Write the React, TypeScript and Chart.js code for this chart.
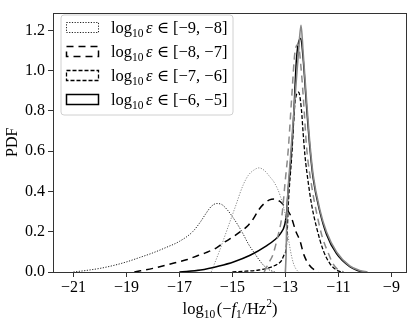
import React, { useEffect, useRef } from "react";
import { Chart, registerables } from "chart.js";

Chart.register(...registerables);

// ---- data ----
const xTicks = [-21, -19, -17, -15, -13, -11, -9];
const yTicks = [0, 0.2, 0.4, 0.6, 0.8, 1.0, 1.2];
const legendRanges = [[-9, -8], [-8, -7], [-7, -6], [-6, -5]];

// black dotted: log10 eps in [-9,-8]
const dotBlackX = [-21.0, -20.5, -20.0, -19.5, -19.0, -18.5, -18.0, -17.5, -17.0, -16.5, -16.2, -16.0, -15.8, -15.6, -15.4, -15.2, -15.0, -14.8, -14.6, -14.4, -14.2, -14.0, -13.8, -13.6, -13.4];
const dotBlackY = [0.0, 0.008, 0.018, 0.032, 0.05, 0.072, 0.095, 0.122, 0.152, 0.2, 0.25, 0.29, 0.325, 0.34, 0.335, 0.31, 0.275, 0.235, 0.19, 0.14, 0.1, 0.062, 0.03, 0.01, 0.0];

// black long dashed: [-8,-7]
const longBlackX = [-18.7, -18.0, -17.2, -16.7, -16.3, -16.0, -15.6, -15.3, -15.0, -14.7, -14.4, -14.2, -14.0, -13.8, -13.6, -13.4, -13.2, -13.0, -12.8, -12.6, -12.45, -12.3, -12.1, -11.9, -11.75];
const longBlackY = [0.0, 0.018, 0.045, 0.062, 0.082, 0.096, 0.12, 0.148, 0.172, 0.2, 0.232, 0.266, 0.31, 0.34, 0.358, 0.362, 0.35, 0.32, 0.28, 0.2, 0.155, 0.085, 0.035, 0.01, 0.0];

// black short dashed: [-7,-6]
const shortBlackX = [-15.0, -14.5, -14.0, -13.7, -13.4, -13.14, -13.05, -12.98, -12.93, -12.89, -12.76, -12.64, -12.5, -12.39, -12.33, -12.26, -12.14, -12.01, -11.82, -11.57, -11.32, -11.07, -10.9];
const shortBlackY = [0.0, 0.004, 0.01, 0.018, 0.032, 0.058, 0.085, 0.107, 0.2, 0.334, 0.577, 0.836, 0.893, 0.8, 0.69, 0.577, 0.447, 0.334, 0.22, 0.107, 0.042, 0.01, 0.0];

// black solid: [-6,-5]
const solidBlackX = [-17.0, -16.2, -15.5, -14.96, -14.33, -13.7, -13.4, -13.2, -13.02, -12.95, -12.9, -12.83, -12.7, -12.58, -12.42, -12.33, -12.2, -12.07, -11.95, -11.7, -11.45, -11.07, -10.57, -10.3, -10.07];
const solidBlackY = [0.0, 0.01, 0.03, 0.05, 0.083, 0.131, 0.16, 0.188, 0.237, 0.3, 0.4, 0.5, 0.74, 1.06, 1.16, 1.06, 0.82, 0.609, 0.463, 0.3, 0.188, 0.091, 0.026, 0.008, 0.0];

// gray dotted
const dotGrayX = [-15.8, -15.5, -15.2, -14.9, -14.6, -14.4, -14.2, -14.0, -13.8, -13.6, -13.4, -13.2, -13.0, -12.9, -12.8, -12.7, -12.6, -12.5];
const dotGrayY = [0.0, 0.1, 0.21, 0.32, 0.43, 0.48, 0.505, 0.517, 0.505, 0.475, 0.44, 0.38, 0.28, 0.18, 0.1, 0.045, 0.015, 0.0];

// gray dashed
const dashGrayX = [-13.8, -13.64, -13.46, -13.3, -13.14, -13.0, -12.89, -12.76, -12.64, -12.52, -12.4, -12.3, -12.2, -12.0, -11.8, -11.6, -11.4, -11.2, -11.0, -10.8];
const dashGrayY = [0.0, 0.042, 0.09, 0.17, 0.27, 0.46, 0.61, 0.87, 1.09, 1.13, 1.0, 0.82, 0.62, 0.42, 0.28, 0.17, 0.1, 0.04, 0.01, 0.0];

// gray solid
const solidGrayX = [-13.0, -12.97, -12.95, -12.92, -12.8, -12.7, -12.6, -12.5, -12.41, -12.33, -12.2, -12.07, -11.95, -11.7, -11.45, -11.07, -10.57, -10.2, -9.9];
const solidGrayY = [0.0, 0.1, 0.25, 0.36, 0.58, 0.76, 0.93, 1.1, 1.225, 1.09, 0.85, 0.63, 0.48, 0.31, 0.2, 0.1, 0.03, 0.008, 0.0];

const SERIF = "'Liberation Serif', 'DejaVu Serif', serif";

const pts = (xs: number[], ys: number[]) => xs.map((x, i) => ({ x, y: ys[i] }));

type Part = { t: string; size: number; dy?: number; italic?: boolean; gap?: number };

function partsWidth(ctx: CanvasRenderingContext2D, parts: Part[]) {
  let w = 0;
  for (const p of parts) {
    ctx.font = `${p.italic ? "italic " : ""}${p.size}px ${SERIF}`;
    w += ctx.measureText(p.t).width + (p.gap || 0);
  }
  return w;
}
function drawParts(ctx: CanvasRenderingContext2D, parts: Part[], x: number, y: number) {
  let cx = x;
  ctx.textBaseline = "alphabetic";
  ctx.textAlign = "left";
  for (const p of parts) {
    ctx.font = `${p.italic ? "italic " : ""}${p.size}px ${SERIF}`;
    ctx.fillText(p.t, cx, y + (p.dy || 0));
    cx += ctx.measureText(p.t).width + (p.gap || 0);
  }
}
const fmt = (v: number) => (v < 0 ? "\u2212" + Math.abs(v) : String(v));

const legendStyles = [
  { dash: [1.2, 1.5], width: 1, color: "#222" },
  { dash: [7, 5], width: 1.5, color: "#000" },
  { dash: [4, 2], width: 1.3, color: "#000" },
  { dash: [], width: 1.5, color: "#000" },
];

const decorPlugin = {
  id: "decor",
  afterDraw(chart: any) {
    const ctx: CanvasRenderingContext2D = chart.ctx;
    const a = chart.chartArea;
    ctx.save();
    // frame
    ctx.strokeStyle = "#333";
    ctx.lineWidth = 1;
    ctx.setLineDash([]);
    ctx.strokeRect(Math.round(a.left) + 0.5, Math.round(a.top) + 0.5, Math.round(a.right - a.left) - 1, Math.round(a.bottom - a.top));
    // legend box
    const bx = 61, by = 15, bw = 172, bh = 100, r = 3;
    ctx.beginPath();
    ctx.moveTo(bx + r, by);
    ctx.arcTo(bx + bw, by, bx + bw, by + bh, r);
    ctx.arcTo(bx + bw, by + bh, bx, by + bh, r);
    ctx.arcTo(bx, by + bh, bx, by, r);
    ctx.arcTo(bx, by, bx + bw, by, r);
    ctx.closePath();
    ctx.fillStyle = "rgba(255,255,255,0.85)";
    ctx.fill();
    ctx.strokeStyle = "#d0d0d0";
    ctx.lineWidth = 1;
    ctx.stroke();
    legendRanges.forEach((rg, i) => {
      const yc = 27 + i * 24;
      const st = legendStyles[i];
      ctx.setLineDash(st.dash);
      ctx.lineWidth = st.width;
      ctx.strokeStyle = st.color;
      ctx.strokeRect(66.5, yc - 4.5, 32, 10);
      ctx.setLineDash([]);
      ctx.fillStyle = "#000";
      drawParts(ctx, [
        { t: "log", size: 16.5 },
        { t: "10", size: 11.5, dy: 4, gap: 2.5 },
        { t: "\u03b5", size: 16.5, italic: true },
        { t: " \u2208 [" + fmt(rg[0]) + ", " + fmt(rg[1]) + "]", size: 16.5 },
      ], 111, yc + 5.5);
    });
    // x title
    const xt: Part[] = [
      { t: "log", size: 16.5 },
      { t: "10", size: 11.5, dy: 4, gap: 1.5 },
      { t: "(\u2212", size: 16.5 },
      { t: "f", size: 16.5, italic: true },
      { t: "1", size: 11.5, dy: 4, gap: 0.5 },
      { t: "/Hz", size: 16.5 },
      { t: "2", size: 11.5, dy: -7 },
      { t: ")", size: 16.5 },
    ];
    ctx.fillStyle = "#000";
    const w = partsWidth(ctx, xt);
    drawParts(ctx, xt, (a.left + a.right) / 2 - w / 2, 314);
    // y title
    ctx.translate(13, (a.top + a.bottom) / 2);
    ctx.rotate(-Math.PI / 2);
    ctx.font = `16px ${SERIF}`;
    ctx.textAlign = "center";
    ctx.textBaseline = "middle";
    ctx.fillText("PDF", 0, 0);
    ctx.restore();
  },
};

export default function App() {
  const ref = useRef<HTMLCanvasElement>(null);
  useEffect(() => {
    if (!ref.current) return;
    const line = (data: any, color: string, width: number, dash: number[]) => ({
      data,
      borderColor: color,
      backgroundColor: "transparent",
      borderWidth: width,
      borderDash: dash,
      pointRadius: 0,
      fill: false,
      cubicInterpolationMode: "monotone",
    });
    const chart = new Chart(ref.current, {
      type: "line",
      data: {
        datasets: [
          line(pts(dotGrayX, dotGrayY), "#8a8a8a", 1, [1.2, 1.5]),
          line(pts(dashGrayX, dashGrayY), "#8a8a8a", 1.5, [7, 5]),
          line(pts(solidGrayX, solidGrayY), "#888888", 1.6, []),
          line(pts(dotBlackX, dotBlackY), "#222", 1, [1.2, 1.5]),
          line(pts(longBlackX, longBlackY), "#000", 1.5, [7, 5]),
          line(pts(shortBlackX, shortBlackY), "#000", 1.3, [4, 2]),
          line(pts(solidBlackX, solidBlackY), "#000", 1.5, []),
        ] as any,
      },
      options: {
        responsive: false,
        animation: false,
        devicePixelRatio: 1,
        layout: { padding: { top: 7, right: 8, left: 0, bottom: 0 } },
        plugins: { legend: { display: false }, tooltip: { enabled: false } },
        scales: {
          x: {
            type: "linear",
            min: -21.77,
            max: -8.41,
            afterBuildTicks: (s: any) => {
              s.ticks = xTicks.map((v) => ({ value: v }));
            },
            afterFit: (s: any) => {
              s.height = 52;
            },
            grid: { drawOnChartArea: false, drawTicks: true, tickLength: 5, color: "#333" },
            border: { display: false },
            ticks: {
              color: "#000",
              padding: 1,
              maxRotation: 0,
              font: { family: SERIF, size: 16 },
              callback: (v: any) => fmt(Number(v)),
            },
          },
          y: {
            type: "linear",
            min: 0,
            max: 1.288,
            afterBuildTicks: (s: any) => {
              s.ticks = yTicks.map((v) => ({ value: v }));
            },
            afterFit: (s: any) => {
              s.width = 53;
            },
            grid: { drawOnChartArea: false, drawTicks: true, tickLength: 5, color: "#333" },
            border: { display: false },
            ticks: {
              color: "#000",
              padding: 3,
              font: { family: SERIF, size: 16 },
              callback: (v: any) => Number(v).toFixed(1),
            },
          },
        },
      } as any,
      plugins: [decorPlugin],
    });
    return () => chart.destroy();
  }, []);
  return (
    <div style={{ position: "fixed", left: 0, top: 0, width: 415, height: 324, background: "#fff" }}>
      <canvas ref={ref} width={415} height={324} style={{ display: "block" }} />
    </div>
  );
}
